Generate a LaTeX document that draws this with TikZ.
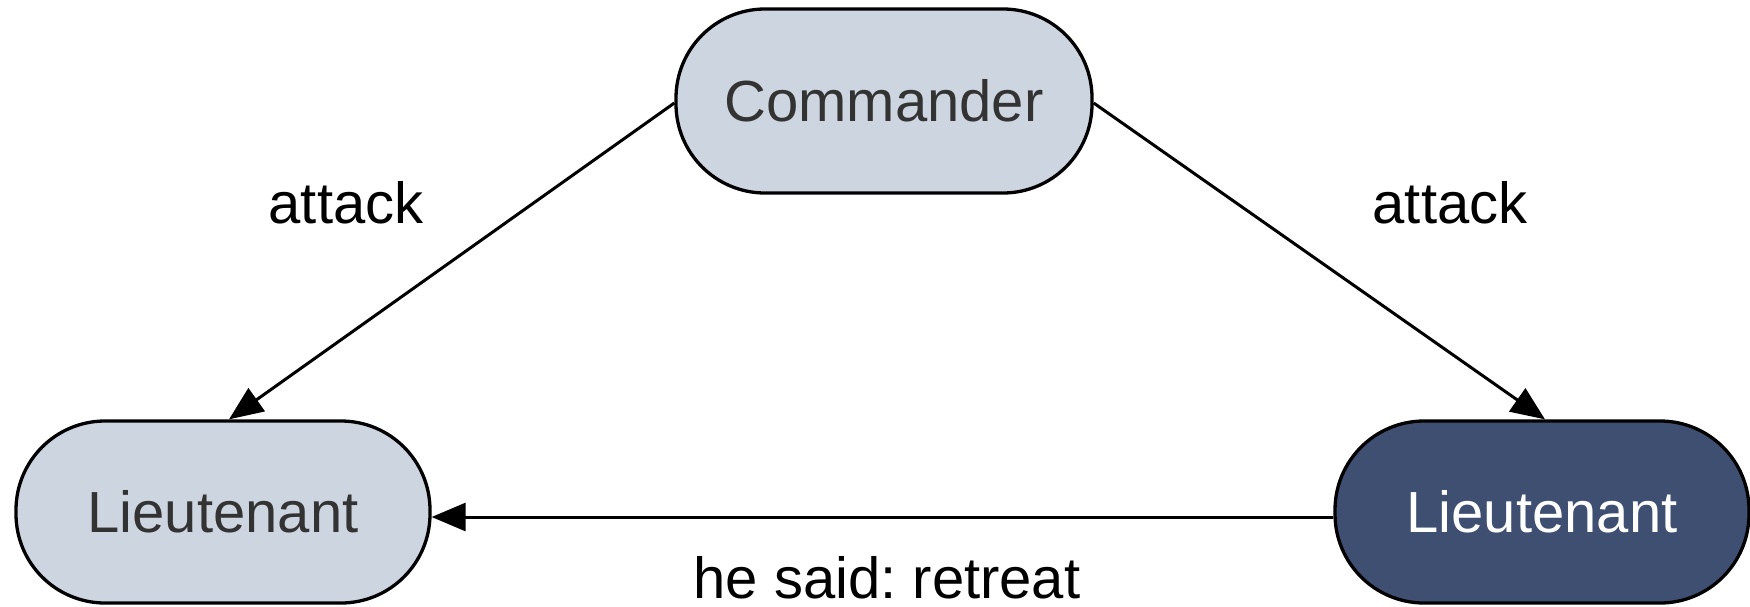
\documentclass[tikz,border=0pt]{standalone}
\usepackage{fontspec}
\setmainfont{Liberation Sans}
\usetikzlibrary{arrows.meta}
\definecolor{lightfill}{RGB}{205,213,225}
\definecolor{darkfill}{RGB}{62,79,114}
\definecolor{nodetext}{RGB}{51,51,51}
\frenchspacing
\begin{document}
\begin{tikzpicture}[x=1pt,y=-1pt,
  every node/.style={font=\fontsize{58}{70}\selectfont},
  statebox/.style={draw=black, line width=3.3pt, rounded corners=89pt,
    minimum width=414pt, minimum height=182pt, inner sep=0pt},
  lightbox/.style={statebox, fill=lightfill, text=nodetext},
  darkbox/.style={statebox, fill=darkfill, text=white},
  conn/.style={draw=black, line width=3pt, -{Triangle[length=34pt,width=28pt]}},
  lbl/.style={text=black, inner sep=0pt}]
\useasboundingbox (0,0) rectangle (1750,606);
\node[lightbox, minimum width=416pt, minimum height=184pt] (cmd) at (884,101) {Commander};
\node[lightbox] (l1) at (223,512) {Lieutenant};
\node[darkbox] (l2) at (1542,512) {Lieutenant};
\draw[conn] ([yshift=-2pt]cmd.west) -- ([xshift=6pt]l1.north);
\draw[conn] ([yshift=-2pt]cmd.east) -- ([xshift=3pt]l2.north);
\draw[conn] ([yshift=-5pt]l2.west) -- ([yshift=-5pt]l1.east);
\node[lbl] (a1) at (346,203) {attack};
\node[lbl] (a2) at (1450,203) {attack};
\node[lbl] (hs) at (887,578) {he said: retreat};
\end{tikzpicture}
\end{document}
